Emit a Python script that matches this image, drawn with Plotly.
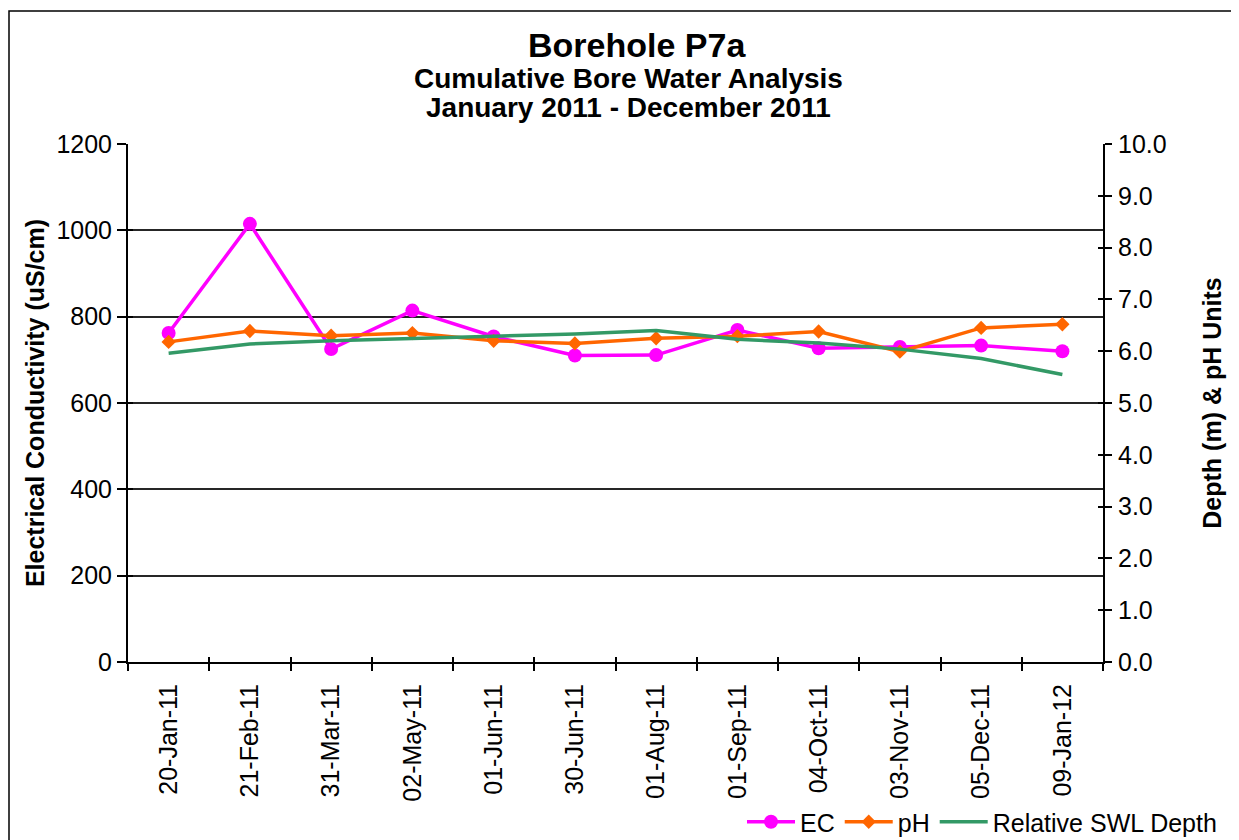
import plotly.graph_objects as go

dates = ["20-Jan-11", "21-Feb-11", "31-Mar-11", "02-May-11", "01-Jun-11", "30-Jun-11",
         "01-Aug-11", "01-Sep-11", "04-Oct-11", "03-Nov-11", "05-Dec-11", "09-Jan-12"]
ec = [762, 1015, 725, 814, 754, 710, 711, 769, 727, 730, 733, 720]
ph = [6.18, 6.39, 6.30, 6.35, 6.20, 6.15, 6.25, 6.29, 6.38, 5.99, 6.45, 6.52]
swl = [5.96, 6.14, 6.20, 6.25, 6.29, 6.33, 6.40, 6.23, 6.16, 6.04, 5.86, 5.55]

FONT = "Liberation Sans, Arial, sans-serif"

fig = go.Figure()
# empty helper traces so the inner-tick axes get drawn
fig.add_trace(go.Scatter(x=[], y=[], xaxis="x2", yaxis="y3", showlegend=False,
                         hoverinfo="skip", mode="lines"))
fig.add_trace(go.Scatter(x=[], y=[], xaxis="x2", yaxis="y4", showlegend=False,
                         hoverinfo="skip", mode="lines"))
fig.add_trace(go.Scatter(x=dates, y=ec, name="EC", mode="lines+markers",
                         line=dict(color="#FF00FF", width=3.5),
                         marker=dict(symbol="circle", size=14, color="#FF00FF"),
                         yaxis="y"))
fig.add_trace(go.Scatter(x=dates, y=ph, name="pH", mode="lines+markers",
                         line=dict(color="#FF6600", width=3.5),
                         marker=dict(symbol="diamond", size=11, color="#FF6600"),
                         yaxis="y2"))
fig.add_trace(go.Scatter(x=dates, y=swl, name="Relative SWL Depth", mode="lines",
                         line=dict(color="#339966", width=3.5),
                         yaxis="y2"))

# page body has an 8px margin; figure coordinates = screen - 8
OFF = 8
W, H = 1239 - OFF, 840 - OFF
L, T = 128 - OFF, 144 - OFF
R = W - (1103 - OFF)
B = H - (662 - OFF)
pw, ph_ = W - L - R, H - T - B

def px_x(x):
    return (x - OFF - L) / pw

def px_y(y):
    return (H - B - (y - OFF)) / ph_

n = len(dates)

fig.update_layout(
    width=W, height=H,
    margin=dict(l=L, r=R, t=T, b=B, autoexpand=False),
    paper_bgcolor="white", plot_bgcolor="white",
    font=dict(family=FONT, size=25, color="black"),
    showlegend=True,
    legend=dict(orientation="h", x=px_x(1222), xanchor="right",
                y=px_y(822), yanchor="middle",
                font=dict(size=25, family=FONT), bgcolor="rgba(0,0,0,0)",
                itemwidth=48, tracegroupgap=0),
    xaxis=dict(type="category", range=[-0.5, n - 0.5],
               tickson="boundaries", ticks="outside", ticklen=7, tickwidth=2,
               tickcolor="black", showline=True, linecolor="black", linewidth=2,
               showgrid=False, tickangle=-90, ticklabelstandoff=10,
               tickfont=dict(size=25)),
    yaxis=dict(range=[0, 1200], dtick=200, ticks="outside", ticklen=9, tickwidth=2,
               tickcolor="black", showline=True, linecolor="black", linewidth=2,
               showgrid=True, gridcolor="#262626", gridwidth=1.5, zeroline=False,
               tickfont=dict(size=25), ticklabelstandoff=0,
               title=dict(text="<b>Electrical Conductivity (uS/cm)</b>",
                          font=dict(size=25), standoff=5)),
    yaxis2=dict(range=[0, 10], dtick=1, tickformat=".1f", overlaying="y", side="right",
                ticks="outside", ticklen=7, tickwidth=2, tickcolor="black",
                showline=True, linecolor="black", linewidth=2, showgrid=False,
                zeroline=False, tickfont=dict(size=25), ticklabelstandoff=1,
                title=dict(text="<b>Depth (m) & pH Units</b>",
                           font=dict(size=25), standoff=38)),
    # inner halves of the cross-style tick marks
    yaxis3=dict(range=[0, 1200], dtick=200, overlaying="y", side="left", anchor="x2",
                ticks="inside", ticklen=5, tickwidth=2, tickcolor="black",
                showticklabels=False, showgrid=False, showline=False, zeroline=False),
    yaxis4=dict(range=[0, 10], dtick=1, overlaying="y", side="right", anchor="x2",
                ticks="inside", ticklen=5, tickwidth=2, tickcolor="black",
                showticklabels=False, showgrid=False, showline=False, zeroline=False),
    xaxis2=dict(type="linear", range=[-0.5, n - 0.5], tick0=-0.5, dtick=1,
                overlaying="x", side="bottom", anchor="y3",
                ticks="inside", ticklen=5, tickwidth=2, tickcolor="black",
                showticklabels=False, showgrid=False, showline=False, zeroline=False),
)

fig.add_annotation(text="<b>Borehole P7a</b>", xref="paper", yref="paper",
                   x=px_x(637), y=px_y(45), xanchor="center", yanchor="middle",
                   showarrow=False, font=dict(size=34, family=FONT))
fig.add_annotation(text="<b>Cumulative Bore Water Analysis</b>", xref="paper", yref="paper",
                   x=px_x(628), y=px_y(78), xanchor="center", yanchor="middle",
                   showarrow=False, font=dict(size=28, family=FONT))
fig.add_annotation(text="<b>January 2011 - December 2011</b>", xref="paper", yref="paper",
                   x=px_x(628), y=px_y(108), xanchor="center", yanchor="middle",
                   showarrow=False, font=dict(size=28, family=FONT))

fig.add_shape(type="rect", xref="paper", yref="paper",
              x0=px_x(9), y0=px_y(880), x1=px_x(1280), y1=px_y(11),
              line=dict(color="black", width=1.5), fillcolor="rgba(0,0,0,0)", layer="below")

fig.write_html("out.html")
